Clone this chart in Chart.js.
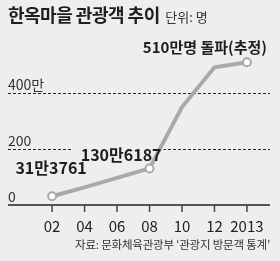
<!DOCTYPE html>
<html>
<head>
<meta charset="utf-8">
<script src="https://cdn.jsdelivr.net/npm/chart.js@4.4.1/dist/chart.umd.min.js"></script>
<style>
  body { margin: 0; background: #eeeeee; }
  #wrap { position: relative; width: 280px; height: 261px; overflow: hidden; }
  #title { position: absolute; left: 8px; top: 4px; font-family: "Noto Sans CJK KR"; font-weight: bold; font-size: 18px; line-height: 20px; color: #1e1e1e; white-space: nowrap; letter-spacing: -0.5px; }
  #title span { font-weight: normal; font-size: 13px; color: #333; letter-spacing: 0; margin-left: 2px; }
  #source { position: absolute; right: 10px; top: 237px; font-family: "Noto Sans CJK KR"; font-size: 11.5px; line-height: 14px; color: #333; white-space: nowrap; letter-spacing: -0.2px; }
  canvas { position: absolute; left: 0; top: 0; }
</style>
</head>
<body>
<div id="wrap">
  <canvas id="chart" width="280" height="261"></canvas>
  <div id="title">한옥마을 관광객 추이 <span>단위: 명</span></div>
  <div id="source">자료: 문화체육관광부 ‘관광지 방문객 통계’</div>
</div>
<script>
// 단위: 만 명
const categories = ['02', '04', '06', '08', '10', '12', '2013'];
const visitors = [31.3761, 63, 97, 130.6187, 350, 492, 510];
const markedIndex = [0, 3, 6];
const markLabels = ['31만3761', '130만6187', '510만명 돌파(추정)'];
const yTicks = [0, 200, 400];
const yTickLabels = ['0', '200', '400만'];

const BG = '#eeeeee';
const NUM_FONT = '"Liberation Sans Narrow", "Noto Sans CJK KR", sans-serif';

// label placement relative to its point: [dx, dy, align, font size]
const labelPlace = [[-1, -28, 'center', 16], [12, -14, 'right', 16], [20, -15, 'right', 15]];

const decor = {
  id: 'decor',
  beforeDatasetsDraw(chart) {
    const ctx = chart.ctx;
    const x = chart.scales.x, y = chart.scales.y;
    const area = chart.chartArea;
    ctx.save();
    // dashed grid lines
    ctx.strokeStyle = '#222';
    ctx.lineWidth = 1;
    ctx.setLineDash([3, 2]);
    yTicks.forEach(v => {
      if (v === 0) return;
      const py = Math.round(y.getPixelForValue(v)) + 0.5;
      ctx.beginPath();
      ctx.moveTo(area.left, py);
      ctx.lineTo(area.right, py);
      ctx.stroke();
    });
    ctx.setLineDash([]);
    // baseline
    const by = y.getPixelForValue(0);
    ctx.lineWidth = 1.5;
    ctx.strokeStyle = '#222';
    ctx.beginPath();
    ctx.moveTo(area.left, by);
    ctx.lineTo(area.right, by);
    ctx.stroke();
    // tick marks and x labels
    ctx.strokeStyle = '#444';
    ctx.fillStyle = '#222';
    ctx.font = '15px ' + NUM_FONT;
    ctx.textAlign = 'center';
    ctx.textBaseline = 'middle';
    categories.forEach((c, i) => {
      const px = x.getPixelForValue(i);
      ctx.beginPath();
      ctx.moveTo(px, by);
      ctx.lineTo(px, by + 7);
      ctx.stroke();
      ctx.fillText(c, px, by + 21);
    });
    // y labels
    ctx.font = '14px ' + NUM_FONT;
    ctx.textAlign = 'left';
    ctx.textBaseline = 'alphabetic';
    ctx.fillStyle = '#333';
    yTicks.forEach((v, i) => {
      ctx.fillText(yTickLabels[i], area.left, y.getPixelForValue(v) - 3);
    });
    // label backgrounds hide the grid behind
    markedIndex.forEach((idx, k) => {
      const [dx, dy, align, size] = labelPlace[k];
      ctx.font = 'bold ' + size + 'px ' + NUM_FONT;
      const px = x.getPixelForValue(idx) + dx;
      const py = y.getPixelForValue(visitors[idx]) + dy;
      const w = ctx.measureText(markLabels[k]).width;
      const left = align === 'right' ? px - w : px - w / 2;
      ctx.fillStyle = BG;
      ctx.fillRect(left - 8, py - 10, w + 10, 20);
    });
    ctx.restore();
  },
  afterDatasetsDraw(chart) {
    const ctx = chart.ctx;
    const x = chart.scales.x, y = chart.scales.y;
    ctx.save();
    ctx.fillStyle = '#1e1e1e';
    ctx.textBaseline = 'middle';
    markedIndex.forEach((idx, k) => {
      const [dx, dy, align, size] = labelPlace[k];
      ctx.font = 'bold ' + size + 'px ' + NUM_FONT;
      ctx.textAlign = align;
      ctx.fillText(markLabels[k], x.getPixelForValue(idx) + dx, y.getPixelForValue(visitors[idx]) + dy);
    });
    ctx.restore();
  }
};

new Chart(document.getElementById('chart'), {
  type: 'line',
  data: {
    datasets: [{
      data: visitors.map((v, i) => ({ x: i, y: v })),
      borderColor: '#a9a9a9',
      borderWidth: 4,
      tension: 0,
      pointRadius: visitors.map((v, i) => markedIndex.includes(i) ? 4 : 0),
      pointBackgroundColor: '#ffffff',
      pointBorderColor: '#a9a9a9',
      pointBorderWidth: 2
    }]
  },
  options: {
    responsive: false,
    devicePixelRatio: 1,
    animation: false,
    layout: { padding: { left: 8, right: 10, top: 37, bottom: 56 } },
    plugins: { legend: { display: false }, tooltip: { enabled: false } },
    scales: {
      x: { type: 'linear', display: false, min: -44 / 32.4, max: 6 + 23 / 32.4 },
      y: { display: false, min: 0, max: 600 }
    }
  },
  plugins: [decor]
});
</script>
</body>
</html>
